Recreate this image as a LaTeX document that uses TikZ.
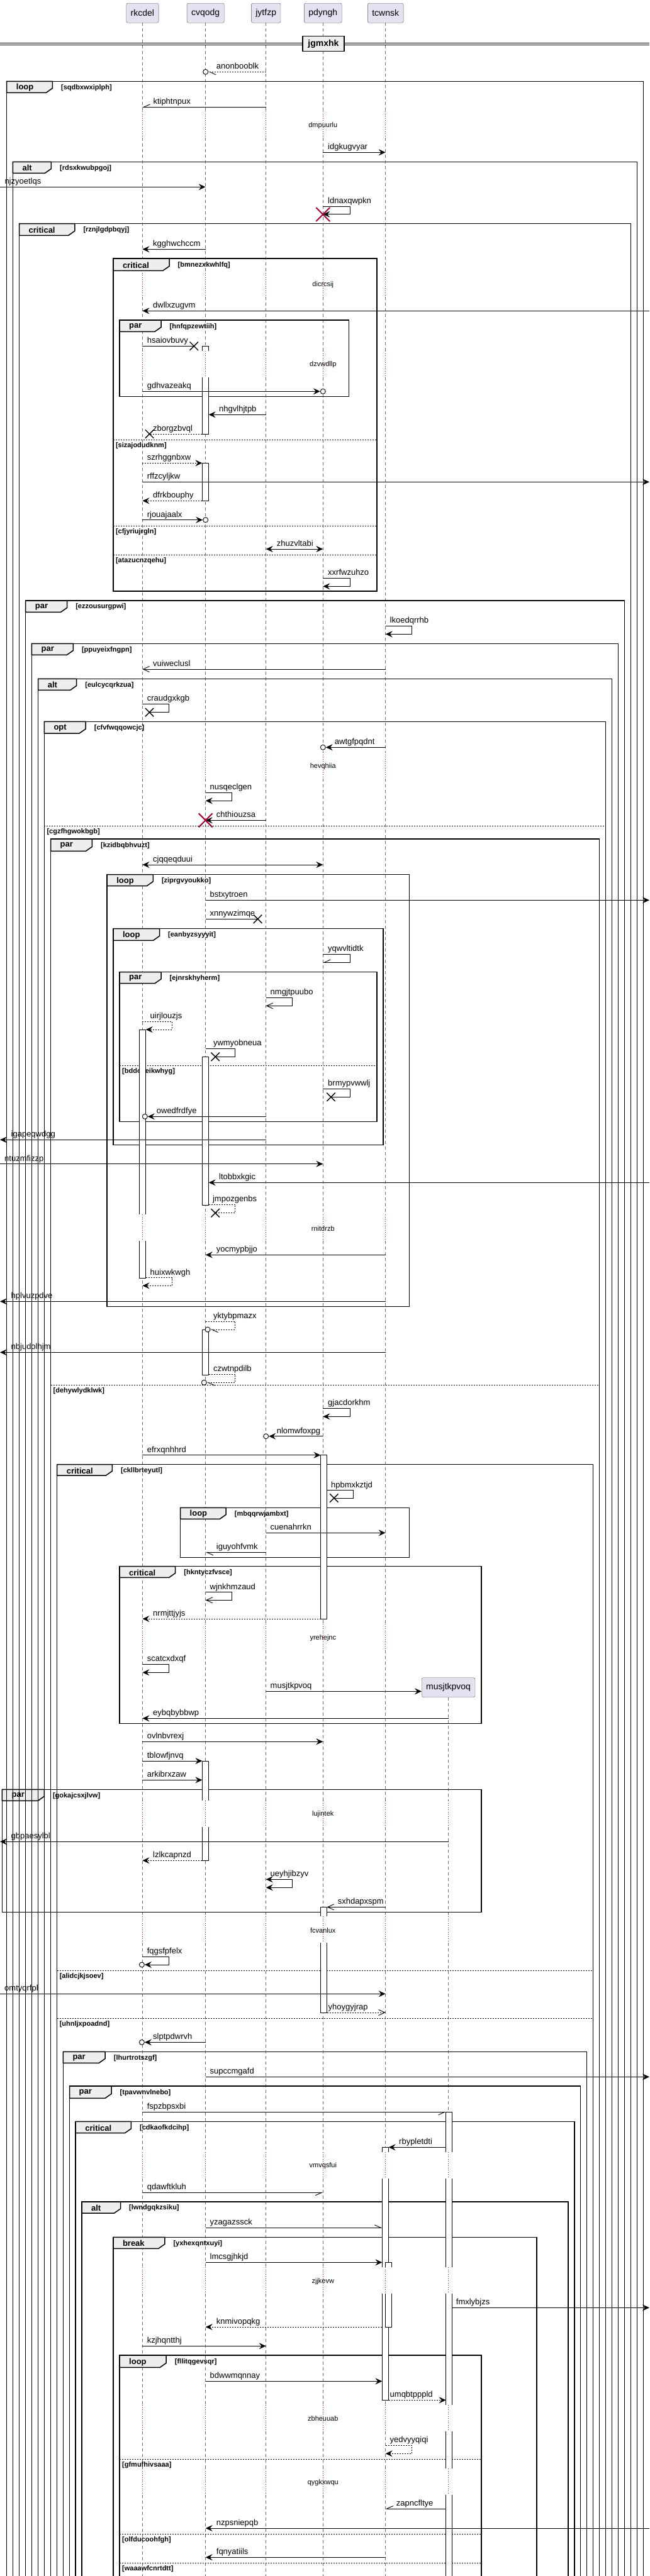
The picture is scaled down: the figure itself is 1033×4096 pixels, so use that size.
\documentclass[tikz,border=0pt]{standalone}
\usepackage{fontspec}
\setmainfont{Liberation Sans}
\usepackage{xcolor}
\usepackage{tikz}
\usetikzlibrary{arrows.meta, shapes.misc}

\definecolor{partfill}{HTML}{E2E2F0}
\definecolor{tabfill}{HTML}{EEEEEE}
\definecolor{plumred}{HTML}{A80036}

\tikzset{
  lifeline/.style={draw=gray!85!black, line width=0.7pt, dash pattern=on 5pt off 4pt},
  delayline/.style={draw=plumred, line width=0.8pt, dash pattern=on 1pt off 2.5pt},
  partbox/.style={draw=gray!70!black, fill=partfill, rounded corners=2.5pt, minimum height=31pt, inner xsep=7pt, font=\fontsize{14}{16}\selectfont},
  msg/.style={line width=0.9pt},
  ret/.style={line width=0.9pt, dash pattern=on 2pt off 2pt},
  fillhead/.style={-{Stealth[length=11pt,width=10pt,inset=4pt]}},
  bothhead/.style={{Stealth[length=11pt,width=10pt,inset=4pt]}-{Stealth[length=11pt,width=10pt,inset=4pt]}},
  openhead/.style={-{Straight Barb[length=10pt,width=9pt]}},
  halfl/.style={-{Straight Barb[length=10pt,width=9pt,left]}},
  halfr/.style={-{Straight Barb[length=10pt,width=9pt,right]}},
  lab/.style={anchor=base west, inner sep=0pt, font=\fontsize{13}{15}\selectfont},
  delaytext/.style={inner sep=1pt, font=\fontsize{11}{13}\selectfont},
  frm/.style={draw, line width=1.5pt},
  tabbox/.style={draw, line width=1.5pt, fill=tabfill},
  kw/.style={anchor=west, inner sep=0pt, font=\fontsize{13}{15}\selectfont\bfseries},
  guard/.style={anchor=west, inner sep=0pt, font=\fontsize{11}{13}\selectfont\bfseries},
  elsesep/.style={line width=0.9pt, dash pattern=on 2pt off 2pt},
  act/.style={draw, fill=white, line width=0.8pt},
  endcirc/.style={circle, draw, fill=white, minimum size=8pt, inner sep=0pt, line width=0.9pt},
  lostx/.style={cross out, draw, minimum size=12pt, inner sep=0pt, line width=1.4pt},
  killmark/.style={cross out, draw=plumred, minimum size=20pt, inner sep=0pt, line width=2pt}
}

\def\framelist{10.7/129.3/1022.3/4110/83.4/147.3/loop/sqdbxwxiplph,
20.4/257.3/1012.6/4110/81.4/275.3/alt/rdsxkwubpgoj,
30.5/355.7/1002.5/4110/118.8/374.3/critical/rznjlgdpbqyj,
179.8/411/599.1/940/269/430.3/critical/bmnezxkwhlfq,
190/509/554.5/630.7/256/527.3/par/hnfqpzewtiih,
40.7/955/992.3/4110/106.6/973.3/par/ezzousurgpwi,
50.4/1023.3/982.6/4110/116.3/1041.3/par/ppuyeixfngpn,
60.6/1079.3/972.4/4110/121.7/1097.3/alt/eulcycqrkzua,
70.3/1147.3/962.7/4110/136.2/1166/opt/cfvfwqqowcjc,
80.5/1334/952.5/4110/146.4/1353.3/par/kzidbqbhvuzt,
170.1/1390.7/650.5/2077.3/243.3/1408.7/loop/ziprgvyoukko,
179.8/1476.7/608.8/1820.3/253.5/1495.3/loop/eanbyzsyyyit,
190/1545.7/599.1/1783.3/256/1563.7/par/ejnrskhyherm,
90.6/2328.7/942.4/4110/178.4/2346/critical/ckllbrteyutl,
286.5/2397.3/650.5/2476.7/359.2/2415.3/loop/mbqqrwjambxt,
190/2490.7/765/2740.7/278.7/2508.3/critical/hkntyczfvsce,
3.4/2845.3/765/3040.7/70.3/2863.3/par/gokajcsxjlvw,
100.3/3262.3/932.7/4110/167.2/3280.3/par/lhurtrotszgf,
110.5/3317/922.5/4110/177/3336.3/par/tpavwnvlnebo,
120.2/3373.3/912.8/4110/208.4/3391.7/critical/cdkaofkdcihp,
129.9/3501/903.1/4110/191.5/3519/alt/lwndgqkzsiku,
179.8/3557.3/853.2/4110/261.8/3575.3/break/yxhexqntxuyi,
190/3745/765/4110/264.2/3764.3/loop/fllitqgevsqr}

\def\dashlist{36/177.3, 219.3/430.3, 472.3/558, 600/1196.3, 1238.3/1931.3, 1973.3/2582.3, 2624.3/2863, 2905/3047.3, 3089.3/3422, 3464/3605.3, 3647.3/3824, 3866/3925.3, 3967.3/4096}
\def\dashlistmu{2699/2863, 2905/3047.3, 3089.3/3422, 3464/3605.3, 3647.3/3824, 3866/3925.3, 3967.3/4096}
\def\delaylist{199.3/dmpuurlu, 452.3/dicrcsij, 580/dzvwdllp, 1218.3/hevqhiia, 1953.3/rnitdrzb, 2604.3/yrehejnc, 2885/lujintek, 3069.3/fcvanlux, 3444/vmvqsfui, 3627.3/zjjkevw, 3846/zbheuuab, 3947.3/qygkxwqu}

\begin{document}
\begin{tikzpicture}[x=1pt, y=-1pt]
\useasboundingbox (0,0) rectangle (1033,4096);

\node[partbox] (rkcdel) at (226.4,20.7) {rkcdel};
\node[partbox] (cvqodg) at (326.7,20.7) {cvqodg};
\node[partbox] (jytfzp) at (422.7,20.7) {jytfzp};
\node[partbox] (pdyngh) at (513.3,20.7) {pdyngh};
\node[partbox] (tcwnsk) at (612.7,20.7) {tcwnsk};
\node[partbox] (musjtkpvoq) at (712.6,2683.2) {musjtkpvoq};

\coordinate (lft) at (0,0);
\coordinate (rgt) at (1032,0);
\coordinate (rkR) at (231.7,0);
\coordinate (cvL) at (321.4,0);
\coordinate (cvR) at (331.6,0);
\coordinate (pdL) at (509.5,0);
\coordinate (pdR) at (519.6,0);
\coordinate (tcL) at (607.4,0);
\coordinate (tcR) at (617.6,0);
\coordinate (muL) at (708.7,0);
\coordinate (muR) at (718.3,0);

\foreach \p in {rkcdel,cvqodg,jytfzp,pdyngh,tcwnsk}
  \foreach \ya/\yb in \dashlist
    \draw[lifeline] (\p |- 0,\ya) -- (\p |- 0,\yb);
\foreach \ya/\yb in \dashlistmu
  \draw[lifeline] (musjtkpvoq |- 0,\ya) -- (musjtkpvoq |- 0,\yb);
\foreach \dy/\dn in \delaylist
  \foreach \p in {rkcdel,cvqodg,jytfzp,pdyngh,tcwnsk}
    \draw[delayline] (\p |- 0,\dy-22) -- (\p |- 0,\dy+20);
\foreach \dy in {2885,3069.3,3444,3627.3,3846,3947.3}
  \draw[delayline] (musjtkpvoq |- 0,\dy-22) -- (musjtkpvoq |- 0,\dy+20);

\draw (lft |- 0,68.3) -- (rgt |- 0,68.3);
\draw (lft |- 0,71.2) -- (rgt |- 0,71.2);
\node[draw, line width=1.8pt, fill=tabfill, minimum width=66pt, minimum height=24pt, font=\fontsize{14}{16}\selectfont\bfseries] (jgmxhk) at (514,69.5) {jgmxhk};

\foreach \fl/\ft/\fr/\fb/\tr/\tb/\kw/\gd in \framelist {
  \filldraw[tabbox] (\fl,\ft) -- (\tr,\ft) -- (\tr,\tb-7) -- (\tr-10,\tb) -- (\fl,\tb) -- cycle;
  \node[kw] (k-\gd) at ({\fl+15},{(\ft+\tb)/2+1}) {\kw};
  \node[guard] (g-\gd) at ({\tr+13.5},{(\ft+\tb)/2+1}) {[\gd]};
}
\foreach \fl/\ft/\fr/\fb/\tr/\tb/\kw/\gd in \framelist
  \draw[frm] (\fl,\ft) rectangle (\fr,\fb);

\foreach \fl/\fr/\ey/\gd in {179.8/599.1/699/sizajodudknm, 179.8/599.1/836/cfjyriujrgln,
  179.8/599.1/882.3/atazucnzqehu, 70.3/962.7/1313.3/cgzfhgwokbgb, 190/599.1/1694/bddoveikwhyg,
  80.5/952.5/2202.3/dehywlydklwk, 90.6/942.4/3133.3/alidcjkjsoev, 90.6/942.4/3209.3/uhnljxpoadnd,
  190/765/3910.3/gfmufhivsaaa, 190/765/4029/olfducoohfgh, 190/765/4075/waaawfcnrtdtt} {
  \draw[elsesep] (\fl,\ey) -- (\fr,\ey);
  \node[guard] (e-\gd) at ({\fl+4},{\ey+9.5}) {[\gd]};
}

\foreach \xa/\xb/\ya/\yb in {321.4/331.6/550.3/690, 321.4/331.6/736.3/796.3, 221.5/231.7/1637/2032.3,
  321.4/331.6/1680.3/1916, 321.4/331.6/2114/2186, 509.5/519.6/2313.7/2574, 321.4/331.6/2800/2958.3,
  509.5/519.6/3032.3/3200, 708.7/718.3/3358.3/4110, 607.4/617.6/3414.3/3816.3, 612.7/622.4/3597.3/3700}
  \filldraw[act] (\xa,\ya) rectangle (\xb,\yb);
\foreach \xa/\xb/\xl/\ga/\gb in {320/333/326.7/558/600, 220/233/226.4/1931.3/1973.3, 320/333/326.7/2863/2905,
  508/521/513.3/3047.3/3089.3, 707/720/712.6/3422/3464, 707/720/712.6/3605.3/3647.3, 707/720/712.6/3824/3866,
  707/720/712.6/3925.3/3967.3, 606/619/612.7/3422/3464, 606/624/612.7/3605.3/3647.3} {
  \fill[white] (\xa,\ga) rectangle (\xb,\gb);
  \draw[delayline] (\xl,\ga) -- (\xl,\gb);
}
\foreach \dy/\dn in \delaylist
  \node[delaytext] (d-\dn) at (513.3,\dy) {\dn};

\node[endcirc] (c1) at (cvqodg |- 0,114.3) {};
\draw[ret,halfl] (jytfzp |- 0,114.3) -- (c1.east);
\node[lab] (t-anonbooblk) at (343.7,109.8) {anonbooblk};
\draw[msg,halfr] (jytfzp |- 0,170.3) -- (rkcdel |- 0,170.3);
\node[lab] (t-ktiphtnpux) at (243.3,165.8) {ktiphtnpux};
\draw[msg,fillhead] (pdyngh |- 0,242.3) -- (tcwnsk |- 0,242.3);
\node[lab] (t-idgkugvyar) at (521,237.8) {idgkugvyar};
\draw[msg,fillhead] (lft |- 0,297.3) -- (cvqodg |- 0,297.3);
\node[lab] (t-njzyoetlqs) at (7.3,292.8) {njzyoetlqs};
\draw[msg,fillhead] (pdyngh |- 0,328.3) -- ++(43.2,0) -- ++(0,12.4) -- (pdyngh |- 0,340.7);
\node[killmark] (k1) at (pdyngh |- 0,341) {};
\node[lab] (t-ldnaxqwpkn) at (521,323.8) {ldnaxqwpkn};
\draw[msg,fillhead] (cvqodg |- 0,396.3) -- (rkcdel |- 0,396.3);
\node[lab] (t-kgghwchccm) at (243,391.8) {kgghwchccm};
\draw[msg,fillhead] (rgt |- 0,494.3) -- (rkcdel |- 0,494.3);
\node[lab] (t-dwllxzugvm) at (243,489.8) {dwllxzugvm};
\node[lostx] (x1) at (308.3,550.3) {};
\draw[msg] (rkcdel |- 0,550.3) -- (x1.center);
\node[lab] (t-hsaiovbuvy) at (233.6,545.8) {hsaiovbuvy};
\node[endcirc] (c2) at (pdyngh |- 0,622.3) {};
\draw[msg,fillhead] (rkcdel |- 0,622.3) -- (c2.west);
\node[lab] (t-gdhvazeakq) at (233.6,617.8) {gdhvazeakq};
\draw[msg,fillhead] (jytfzp |- 0,659.3) -- (cvR |- 0,659.3);
\node[lab] (t-nhgvlhjtpb) at (348,654.8) {nhgvlhjtpb};
\node[lostx] (x2) at (237.5,690) {};
\draw[ret] (cvL |- 0,690) -- (x2.center);
\node[lab] (t-zborgzbvql) at (243,685.5) {zborgzbvql};
\draw[ret,fillhead] (rkcdel |- 0,736.3) -- (cvL |- 0,736.3);
\node[lab] (t-szrhggnbxw) at (233.6,731.8) {szrhggnbxw};
\draw[msg,fillhead] (rkcdel |- 0,766.3) -- (rgt |- 0,766.3);
\node[lab] (t-rffzcyljkw) at (233.6,761.8) {rffzcyljkw};
\draw[ret,fillhead] (cvL |- 0,796.3) -- (rkcdel |- 0,796.3);
\node[lab] (t-dfrkbouphy) at (243,791.8) {dfrkbouphy};
\node[endcirc] (c3) at (cvqodg |- 0,826.7) {};
\draw[msg,fillhead] (rkcdel |- 0,826.7) -- (c3.west);
\node[lab] (t-rjouajaalx) at (233.6,822.2) {rjouajaalx};
\draw[msg,bothhead] (jytfzp |- 0,873) -- (pdyngh |- 0,873);
\node[lab] (t-zhuzvltabi) at (439.7,868.5) {zhuzvltabi};
\draw[msg,fillhead] (pdyngh |- 0,919.3) -- ++(43.2,0) -- ++(0,13) -- (pdyngh |- 0,932.3);
\node[lab] (t-xxrfwzuhzo) at (521,914.8) {xxrfwzuhzo};
\draw[msg,fillhead] (tcwnsk |- 0,995.3) -- ++(41.7,0) -- ++(0,13) -- (tcwnsk |- 0,1008.3);
\node[lab] (t-lkoedqrrhb) at (619.5,990.8) {lkoedqrrhb};
\draw[msg,openhead] (tcwnsk |- 0,1064) -- (rkcdel |- 0,1064);
\node[lab] (t-vuiweclusl) at (243,1059.5) {vuiweclusl};
\node[lostx] (x3) at (237.5,1132.7) {};
\draw[msg] (rkcdel |- 0,1119.3) -- ++(42.1,0) -- ++(0,13.4) -- (x3.center);
\node[lab] (t-craudgxkgb) at (233.6,1114.8) {craudgxkgb};
\node[endcirc] (c4) at (pdyngh |- 0,1188.3) {};
\draw[msg,fillhead] (tcwnsk |- 0,1188.3) -- (c4.east);
\node[lab] (t-awtgfpqdnt) at (531.7,1183.8) {awtgfpqdnt};
\draw[msg,fillhead] (cvqodg |- 0,1260) -- ++(41.7,0) -- ++(0,13.3) -- (cvqodg |- 0,1273.3);
\node[lab] (t-nusqeclgen) at (333.5,1255.5) {nusqeclgen};
\draw[msg,fillhead] (jytfzp |- 0,1304.3) -- (cvqodg |- 0,1304.3);
\node[killmark] (k2) at (cvqodg |- 0,1304.3) {};
\node[lab] (t-chthiouzsa) at (343.7,1299.8) {chthiouzsa};
\draw[msg,bothhead] (rkcdel |- 0,1375) -- (pdyngh |- 0,1375);
\node[lab] (t-cjqqeqduui) at (243,1370.5) {cjqqeqduui};
\draw[msg,fillhead] (cvqodg |- 0,1431.3) -- (rgt |- 0,1431.3);
\node[lab] (t-bstxytroen) at (333.5,1426.8) {bstxytroen};
\node[lostx] (x4) at (409.6,1461.3) {};
\draw[msg] (cvqodg |- 0,1461.3) -- (x4.center);
\node[lab] (t-xnnywzimqe) at (333.5,1456.8) {xnnywzimqe};
\draw[msg,halfr] (pdyngh |- 0,1517.3) -- ++(43.2,0) -- ++(0,13) -- (pdyngh |- 0,1530.3);
\node[lab] (t-yqwvltidtk) at (521,1512.8) {yqwvltidtk};
\draw[msg,openhead] (jytfzp |- 0,1586.3) -- ++(41.7,0) -- ++(0,13) -- (jytfzp |- 0,1599.3);
\node[lab] (t-nmgjtpuubo) at (429.5,1581.8) {nmgjtpuubo};
\draw[ret,fillhead] (rkcdel |- 0,1624.3) -- ++(47,0) -- ++(0,12.7) -- (rkR |- 0,1637);
\node[lab] (t-uirjlouzjs) at (238.5,1619.8) {uirjlouzjs};
\node[lostx] (x5) at (342.2,1680.3) {};
\draw[msg] (cvqodg |- 0,1667.3) -- ++(47,0) -- ++(0,13) -- (x5.center);
\node[lab] (t-ywmyobneua) at (338.8,1662.8) {ywmyobneua};
\node[lostx] (x6) at (526,1744.3) {};
\draw[msg] (pdyngh |- 0,1731.3) -- ++(43.2,0) -- ++(0,13) -- (x6.center);
\node[lab] (t-brmypvwwlj) at (521,1726.8) {brmypvwwlj};
\node[endcirc] (c5) at (230.3,1775.3) {};
\draw[msg,fillhead] (jytfzp |- 0,1775.3) -- (c5.east);
\node[lab] (t-owedfrdfye) at (248.7,1770.8) {owedfrdfye};
\draw[msg,fillhead] (jytfzp |- 0,1812.3) -- (lft |- 0,1812.3);
\node[lab] (t-igapeqwdgg) at (17.5,1807.8) {igapeqwdgg};
\draw[msg,fillhead] (lft |- 0,1850.7) -- (pdyngh |- 0,1850.7);
\node[lab] (t-ntuzmfizzp) at (7,1846.2) {ntuzmfizzp};
\draw[msg,fillhead] (rgt |- 0,1880.3) -- (cvR |- 0,1880.3);
\node[lab] (t-ltobbxkgic) at (348,1875.8) {ltobbxkgic};
\node[lostx] (x7) at (342.2,1928.7) {};
\draw[ret] (cvR |- 0,1915.3) -- ++(42.1,0) -- ++(0,13.4) -- (x7.center);
\node[lab] (t-jmpozgenbs) at (337.9,1910.8) {jmpozgenbs};
\draw[msg,fillhead] (tcwnsk |- 0,1995.3) -- (cvqodg |- 0,1995.3);
\node[lab] (t-yocmypbjjo) at (343.7,1990.8) {yocmypbjjo};
\draw[ret,fillhead] (rkR |- 0,2031.7) -- ++(41.7,0) -- ++(0,12.6) -- (rkcdel |- 0,2044.3);
\node[lab] (t-huixwkwgh) at (238.5,2027.2) {huixwkwgh};
\draw[msg,fillhead] (tcwnsk |- 0,2069.3) -- (lft |- 0,2069.3);
\node[lab] (t-hplvuzpdve) at (17.5,2064.8) {hplvuzpdve};
\node[endcirc] (c6) at (330,2114) {};
\draw[ret,halfl] (cvqodg |- 0,2101.3) -- ++(47,0) -- ++(0,12.7) -- (c6.east);
\node[lab] (t-yktybpmazx) at (338.8,2096.8) {yktybpmazx};
\draw[msg,fillhead] (tcwnsk |- 0,2150.3) -- (lft |- 0,2150.3);
\node[lab] (t-nbjudolhjm) at (17.5,2145.8) {nbjudolhjm};
\node[endcirc] (c7) at (324.3,2198.3) {};
\draw[ret,halfl] (cvR |- 0,2185.3) -- ++(42.1,0) -- ++(0,13) -- (c7.east);
\node[lab] (t-czwtnpdilb) at (338.8,2180.8) {czwtnpdilb};
\draw[msg,fillhead] (pdyngh |- 0,2239.3) -- ++(43.2,0) -- ++(0,13) -- (pdyngh |- 0,2252.3);
\node[lab] (t-gjacdorkhm) at (521,2234.8) {gjacdorkhm};
\node[endcirc] (c8) at (jytfzp |- 0,2283.7) {};
\draw[msg,fillhead] (pdyngh |- 0,2283.7) -- (c8.east);
\node[lab] (t-nlomwfoxpg) at (439.6,2279.2) {nlomwfoxpg};
\draw[msg,fillhead] (rkcdel |- 0,2313.7) -- (pdL |- 0,2313.7);
\node[lab] (t-efrxqnhhrd) at (233.6,2309.2) {efrxqnhhrd};
\node[lostx] (x8) at (530.8,2382) {};
\draw[msg] (pdR |- 0,2369.7) -- ++(41.7,0) -- ++(0,12.3) -- (x8.center);
\node[lab] (t-hpbmxkztjd) at (526,2365.2) {hpbmxkztjd};
\draw[msg,fillhead] (jytfzp |- 0,2437.3) -- (tcwnsk |- 0,2437.3);
\node[lab] (t-cuenahrrkn) at (429.5,2432.8) {cuenahrrkn};
\draw[msg,halfl] (jytfzp |- 0,2468.3) -- (cvqodg |- 0,2468.3);
\node[lab] (t-iguyohfvmk) at (343.7,2463.8) {iguyohfvmk};
\draw[msg,openhead] (cvqodg |- 0,2531.7) -- ++(41.7,0) -- ++(0,12.6) -- (cvqodg |- 0,2544.3);
\node[lab] (t-wjnkhmzaud) at (333.5,2527.2) {wjnkhmzaud};
\draw[ret,fillhead] (pdL |- 0,2574) -- (rkcdel |- 0,2574);
\node[lab] (t-nrmjttjyjs) at (243,2569.5) {nrmjttjyjs};
\draw[msg,fillhead] (rkcdel |- 0,2646) -- ++(42.1,0) -- ++(0,13.3) -- (rkcdel |- 0,2659.3);
\node[lab] (t-scatcxdxqf) at (233.6,2641.5) {scatcxdxqf};
\draw[msg,fillhead] (jytfzp |- 0,2689.3) -- (musjtkpvoq.west |- 0,2689.3);
\node[lab] (t-musjtkpvoq) at (429.5,2684.8) {musjtkpvoq};
\draw[msg,fillhead] (musjtkpvoq |- 0,2732.3) -- (rkcdel |- 0,2732.3);
\node[lab] (t-eybqbybbwp) at (243,2727.8) {eybqbybbwp};
\draw[msg,fillhead] (rkcdel |- 0,2769.3) -- (pdyngh |- 0,2769.3);
\node[lab] (t-ovlnbvrexj) at (233.6,2764.8) {ovlnbvrexj};
\draw[msg,fillhead] (rkcdel |- 0,2800) -- (cvL |- 0,2800);
\node[lab] (t-tblowfjnvq) at (233.6,2795.5) {tblowfjnvq};
\draw[msg,fillhead] (rkcdel |- 0,2830.3) -- (cvL |- 0,2830.3);
\node[lab] (t-arkibrxzaw) at (233.6,2825.8) {arkibrxzaw};
\draw[msg,fillhead] (musjtkpvoq |- 0,2928.3) -- (lft |- 0,2928.3);
\node[lab] (t-gbpaesylbl) at (17.5,2923.8) {gbpaesylbl};
\draw[ret,fillhead] (cvL |- 0,2958.3) -- (rkcdel |- 0,2958.3);
\node[lab] (t-lzlkcapnzd) at (243,2953.8) {lzlkcapnzd};
\draw[msg,bothhead] (jytfzp |- 0,2988.3) -- ++(41.7,0) -- ++(0,13) -- (jytfzp |- 0,3001.3);
\node[lab] (t-ueyhjibzyv) at (429.5,2983.8) {ueyhjibzyv};
\draw[msg,openhead] (tcwnsk |- 0,3032.3) -- (pdR |- 0,3032.3);
\node[lab] (t-sxhdapxspm) at (536.6,3027.8) {sxhdapxspm};
\node[endcirc] (c9) at (225.4,3124) {};
\draw[msg,fillhead] (rkcdel |- 0,3111.3) -- ++(42.1,0) -- ++(0,12.7) -- (c9.east);
\node[lab] (t-fqgsfpfelx) at (233.6,3106.8) {fqgsfpfelx};
\draw[msg,fillhead] (lft |- 0,3170.3) -- (tcwnsk |- 0,3170.3);
\node[lab] (t-omtyqrfpl) at (7,3165.8) {omtyqrfpl};
\draw[ret,openhead] (pdR |- 0,3200) -- (tcwnsk |- 0,3200);
\node[lab] (t-yhoygyjrap) at (521.5,3195.5) {yhoygyjrap};
\node[endcirc] (c10) at (225.4,3247.3) {};
\draw[msg,fillhead] (cvqodg |- 0,3247.3) -- (c10.east);
\node[lab] (t-slptpdwrvh) at (243,3242.8) {slptpdwrvh};
\draw[msg,fillhead] (cvqodg |- 0,3302.3) -- (rgt |- 0,3302.3);
\node[lab] (t-supccmgafd) at (333.5,3297.8) {supccmgafd};
\draw[msg,halfr] (rkcdel |- 0,3358.3) -- (muL |- 0,3358.3);
\node[lab] (t-fspzbpsxbi) at (233.6,3353.8) {fspzbpsxbi};
\draw[msg,fillhead] (muL |- 0,3414.3) -- (tcR |- 0,3414.3);
\node[lab] (t-rbypletdti) at (634,3409.8) {rbypletdti};
\draw[msg,halfr] (rkcdel |- 0,3486.3) -- (pdyngh |- 0,3486.3);
\node[lab] (t-qdawftkluh) at (233.6,3481.8) {qdawftkluh};
\draw[msg,halfl] (cvqodg |- 0,3542.3) -- (tcL |- 0,3542.3);
\node[lab] (t-yzagazssck) at (333.5,3537.8) {yzagazssck};
\draw[msg,fillhead] (cvqodg |- 0,3597.3) -- (tcL |- 0,3597.3);
\node[lab] (t-lmcsgjhkjd) at (333.5,3592.8) {lmcsgjhkjd};
\draw[msg,fillhead] (muR |- 0,3669.3) -- (rgt |- 0,3669.3);
\node[lab] (t-fmxlybjzs) at (724.7,3664.8) {fmxlybjzs};
\draw[ret,fillhead] (tcL |- 0,3700) -- (cvqodg |- 0,3700);
\node[lab] (t-knmivopqkg) at (343.7,3695.5) {knmivopqkg};
\draw[msg,fillhead] (rkcdel |- 0,3730.3) -- (jytfzp |- 0,3730.3);
\node[lab] (t-kzjhqntthj) at (233.6,3725.8) {kzjhqntthj};
\draw[msg,fillhead] (cvqodg |- 0,3786.3) -- (tcL |- 0,3786.3);
\node[lab] (t-bdwwmqnnay) at (333.5,3781.8) {bdwwmqnnay};
\draw[ret,fillhead] (tcR |- 0,3816.3) -- (muL |- 0,3816.3);
\node[lab] (t-umqbtpppld) at (619.5,3811.8) {umqbtpppld};
\draw[ret,fillhead] (tcwnsk |- 0,3888.3) -- ++(41.7,0) -- ++(0,13) -- (tcwnsk |- 0,3901.3);
\node[lab] (t-yedvyyqiqi) at (619.5,3883.8) {yedvyyqiqi};
\draw[msg,halfr] (muL |- 0,3989) -- (tcwnsk |- 0,3989);
\node[lab] (t-zapncfltye) at (629.7,3984.5) {zapncfltye};
\draw[msg,fillhead] (rgt |- 0,4020) -- (cvqodg |- 0,4020);
\node[lab] (t-nzpsniepqb) at (343.7,4015.5) {nzpsniepqb};
\draw[msg,fillhead] (tcwnsk |- 0,4066.3) -- (cvqodg |- 0,4066.3);
\node[lab] (t-fqnyatiils) at (343.7,4061.8) {fqnyatiils};
\end{tikzpicture}
\end{document}
